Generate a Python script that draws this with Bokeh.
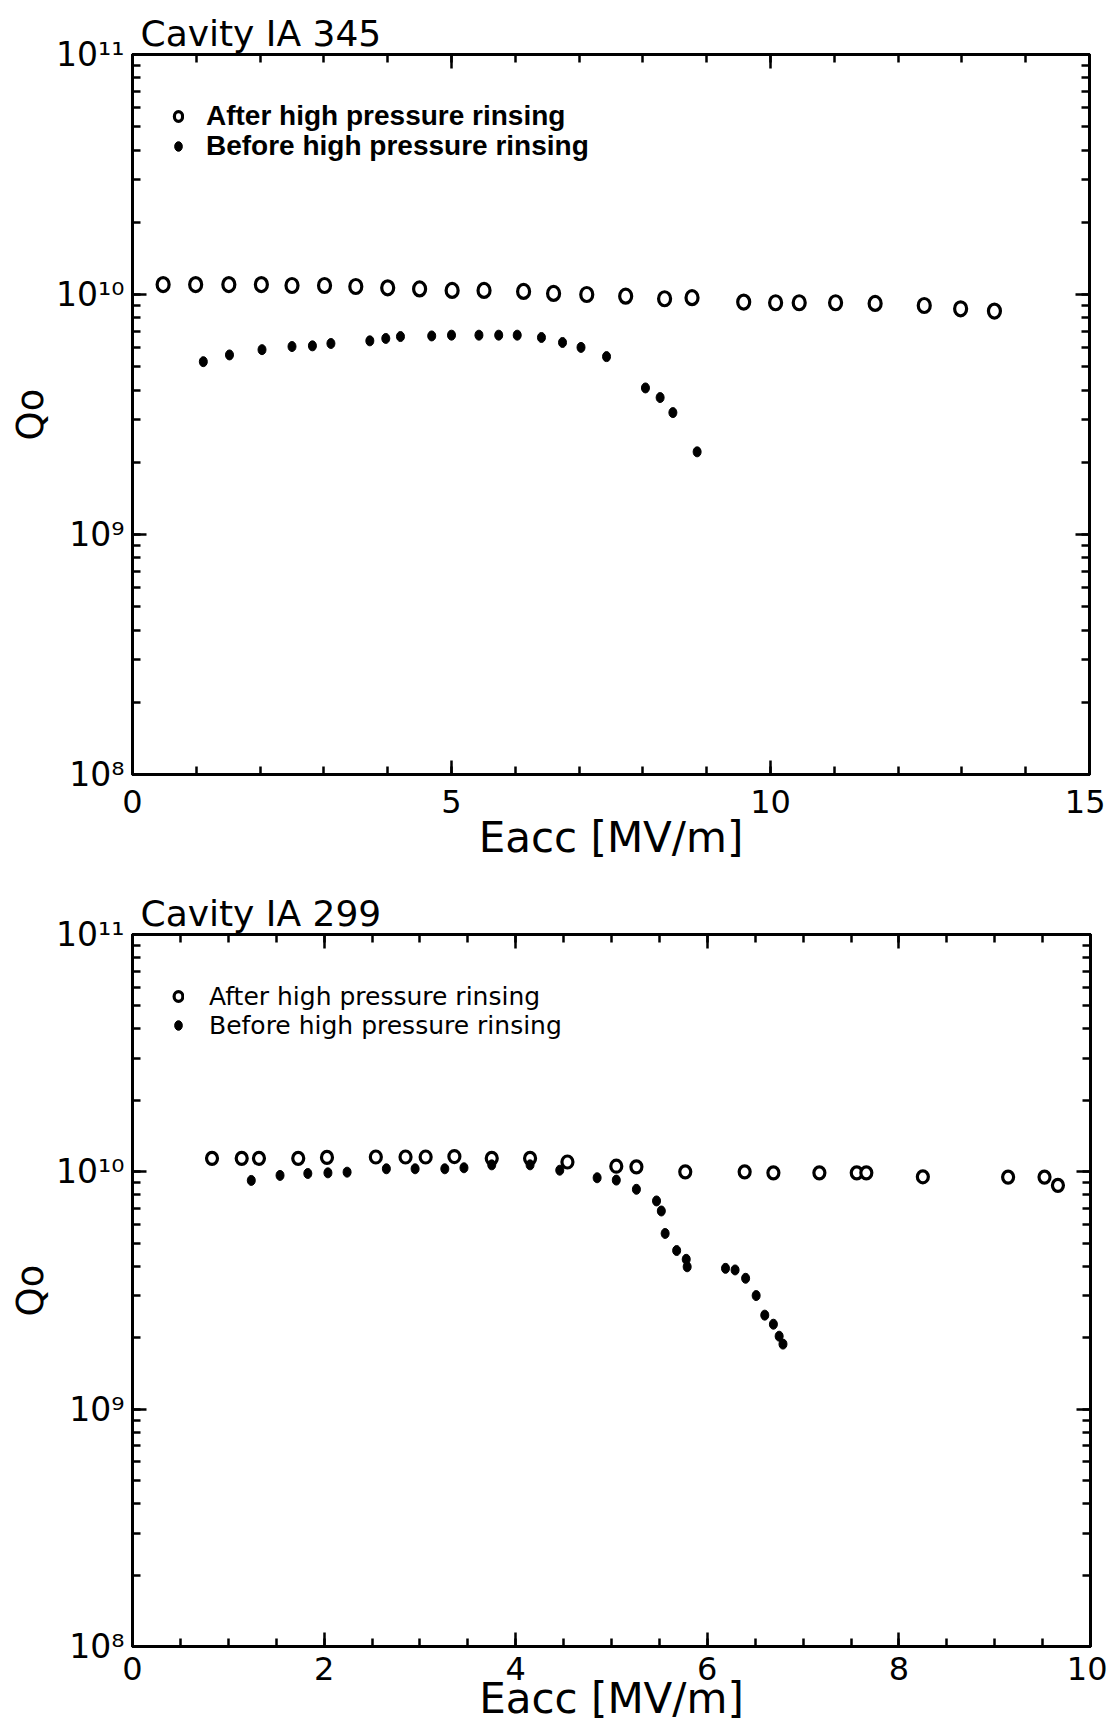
from bokeh.plotting import figure
from bokeh.layouts import column
from bokeh.models import (LinearAxis, LogAxis, SingleIntervalTicker, LogTicker, Legend,
                          LegendItem, Range1d, CustomJSTickFormatter)
from bokeh.embed import file_html
from bokeh.resources import INLINE

# ---------------- data ----------------
# Cavity IA 345
title_345 = "Cavity IA 345"
e345_after = [0.48, 0.99, 1.51, 2.02, 2.50, 3.01, 3.50, 4.00, 4.50, 5.01, 5.51, 6.13, 6.60,
              7.12, 7.73, 8.34, 8.77, 9.58, 10.08, 10.45, 11.02, 11.64, 12.41, 12.98, 13.51]
q345_after = [1.10e10, 1.10e10, 1.10e10, 1.10e10, 1.09e10, 1.09e10, 1.08e10, 1.066e10, 1.055e10,
              1.04e10, 1.04e10, 1.03e10, 1.01e10, 1.0e10, 0.984e10, 0.96e10, 0.97e10, 0.93e10,
              0.924e10, 0.924e10, 0.924e10, 0.918e10, 0.90e10, 0.872e10, 0.853e10]
e345_before = [1.11, 1.52, 2.03, 2.50, 2.82, 3.11, 3.72, 3.97, 4.20, 4.69, 5.00, 5.43, 5.74,
               6.03, 6.41, 6.74, 7.03, 7.43, 8.04, 8.27, 8.47, 8.85]
q345_before = [5.25e9, 5.60e9, 5.89e9, 6.07e9, 6.11e9, 6.25e9, 6.41e9, 6.56e9, 6.68e9, 6.72e9,
               6.77e9, 6.77e9, 6.77e9, 6.77e9, 6.62e9, 6.31e9, 6.02e9, 5.51e9, 4.08e9, 3.72e9,
               3.22e9, 2.21e9]

# Cavity IA 299
title_299 = "Cavity IA 299"
e299_after = [0.83, 1.14, 1.32, 1.73, 2.03, 2.54, 2.85, 3.06, 3.36, 3.75, 4.15, 4.54, 5.05,
              5.26, 5.77, 6.39, 6.69, 7.17, 7.56, 7.66, 8.25, 9.14, 9.52, 9.66]
q299_after = [1.14e10, 1.14e10, 1.14e10, 1.14e10, 1.15e10, 1.155e10, 1.155e10, 1.155e10, 1.16e10,
              1.14e10, 1.14e10, 1.10e10, 1.056e10, 1.05e10, 1.0e10, 1.0e10, 0.99e10, 0.99e10,
              0.99e10, 0.99e10, 0.953e10, 0.95e10, 0.95e10, 0.877e10]
e299_before = [1.24, 1.54, 1.83, 2.04, 2.24, 2.65, 2.95, 3.26, 3.46, 3.75, 4.15, 4.46, 4.85,
               5.05, 5.26, 5.47, 5.52, 5.56, 5.68, 5.78, 5.79, 6.19, 6.29, 6.40, 6.51, 6.60,
               6.69, 6.75, 6.79]
q299_before = [0.920e10, 0.966e10, 0.984e10, 0.99e10, 0.997e10, 1.03e10, 1.03e10, 1.03e10,
               1.04e10, 1.07e10, 1.07e10, 1.016e10, 0.944e10, 0.923e10, 0.844e10, 0.754e10,
               0.684e10, 0.550e10, 0.466e10, 0.428e10, 0.398e10, 0.392e10, 0.386e10, 0.356e10,
               0.301e10, 0.249e10, 0.228e10, 0.203e10, 0.188e10]

label_after = "After high pressure rinsing"
label_before = "Before high pressure rinsing"
x_label = "Eacc [MV/m]"
y_label = "Qo"

FONT = "DejaVu Sans"


def sup_formatter():
    return CustomJSTickFormatter(code="""
const s = {"0":"\u2070","1":"\u00b9","2":"\u00b2","3":"\u00b3","4":"\u2074","5":"\u2075",
           "6":"\u2076","7":"\u2077","8":"\u2078","9":"\u2079","-":"\u207b"};
const e = Math.round(Math.log10(tick));
return "10" + String(e).split("").map(c => s[c]).join("");
""")


def style_axis(ax, labels=True):
    ax.axis_line_width = 3
    ax.axis_line_color = "black"
    ax.major_tick_in = 14
    ax.major_tick_out = 0
    ax.minor_tick_in = 8
    ax.minor_tick_out = 0
    ax.major_tick_line_width = 2.5
    ax.minor_tick_line_width = 2.5
    ax.major_tick_line_color = "black"
    ax.minor_tick_line_color = "black"
    ax.major_label_text_font = FONT
    if labels:
        ax.major_label_text_color = "black"
    else:
        ax.major_label_text_font_size = "8px"
        ax.major_label_text_color = None
        ax.major_label_standoff = 0


def add_legend_row(p, label, renderer, fh, cfg, centre):
    rh = cfg["row_h"]
    leg = Legend(items=[LegendItem(label=label, renderers=[renderer])],
                 location=(cfg["leg_x"], fh - centre - rh / 2))
    leg.border_line_color = None
    leg.background_fill_alpha = 0
    leg.padding = 0
    leg.margin = 0
    leg.spacing = 0
    leg.glyph_width = 12
    leg.glyph_height = 20
    leg.label_height = 20
    leg.label_standoff = cfg["leg_standoff"]
    leg.label_text_font = cfg["leg_font"]
    leg.label_text_font_style = cfg["leg_style"]
    leg.label_text_font_size = cfg["leg_size"]
    leg.label_text_color = "black"
    p.add_layout(leg, "center")


def make_plot(title, xmax, interval, nminor, fw, fh, bl, br, bt, bb,
              ea, qa, eb, qb, cfg):
    p = figure(x_range=Range1d(0, xmax), y_range=Range1d(1e8, 1e11), y_axis_type="log",
               frame_width=fw, frame_height=fh, min_border_left=bl, min_border_right=br,
               min_border_top=bt, min_border_bottom=bb, output_backend="svg",
               toolbar_location=None, title=title)
    p.title.text_font = FONT
    p.title.text_font_size = "36px"
    p.title.text_font_style = "normal"
    p.title.text_color = "black"
    p.title.align = "left"
    p.title.offset = 8
    p.title.standoff = 2
    p.grid.visible = False
    p.outline_line_color = "black"
    p.outline_line_width = 3
    p.background_fill_color = "white"
    p.border_fill_color = "white"

    p.xaxis.ticker = SingleIntervalTicker(interval=interval, num_minor_ticks=nminor)
    style_axis(p.xaxis[0])
    p.xaxis.major_label_text_font_size = "32px"
    p.xaxis.major_label_standoff = cfg["xtick_standoff"]
    p.xaxis.axis_label = x_label
    p.xaxis.axis_label_text_font = FONT
    p.xaxis.axis_label_text_font_size = "42px"
    p.xaxis.axis_label_text_font_style = "normal"
    p.xaxis.axis_label_text_color = "black"
    p.xaxis.axis_label_standoff = cfg["xlabel_standoff"]

    p.yaxis.ticker = LogTicker(num_minor_ticks=10)
    p.yaxis.formatter = sup_formatter()
    style_axis(p.yaxis[0])
    p.yaxis.major_label_text_font_size = "33px"
    p.yaxis.major_label_standoff = 8
    p.yaxis.axis_label = y_label
    p.yaxis.axis_label_text_font = FONT
    p.yaxis.axis_label_text_font_size = "37px"
    p.yaxis.axis_label_text_font_style = "normal"
    p.yaxis.axis_label_text_color = "black"
    p.yaxis.axis_label_standoff = 1

    top = LinearAxis(ticker=SingleIntervalTicker(interval=interval, num_minor_ticks=nminor))
    style_axis(top, labels=False)
    p.add_layout(top, "above")
    right = LogAxis(ticker=LogTicker(num_minor_ticks=10))
    style_axis(right, labels=False)
    p.add_layout(right, "right")

    # data marks (slightly oval, as in the scanned plot)
    ra = p.ellipse(ea, qa, width=cfg["open_w"], height=cfg["open_h"], width_units="screen",
                   height_units="screen", fill_color="white", line_color="black",
                   line_width=3.2)
    rb = p.ellipse(eb, qb, width=8, height=10, width_units="screen", height_units="screen",
                   fill_color="black", line_color="black", line_width=1)

    add_legend_row(p, label_after, ra, fh, cfg, cfg["row1"])
    add_legend_row(p, label_before, rb, fh, cfg, cfg["row2"])
    return p


cfg1 = dict(xtick_standoff=15, xlabel_standoff=-3, open_w=12, open_h=14,
            row_h=33, row1=61.6, row2=91.4, leg_x=40, leg_standoff=22,
            leg_font="Liberation Sans", leg_style="bold", leg_size="28px")
cfg2 = dict(xtick_standoff=10, xlabel_standoff=-9, open_w=11, open_h=12,
            row_h=29, row1=62.0, row2=91.0, leg_x=40, leg_standoff=25,
            leg_font=FONT, leg_style="normal", leg_size="25px")

p1 = make_plot(title_345, 15, 5, 5, 957, 720, 128, 20, 54, 86,
               e345_after, q345_after, e345_before, q345_before, cfg1)
p2 = make_plot(title_299, 10, 2, 4, 958, 712, 132, 17, 70, 70,
               e299_after, q299_after, e299_before, q299_before, cfg2)

layout = column(p1, p2)
open("out.html", "w").write(file_html(layout, INLINE))
